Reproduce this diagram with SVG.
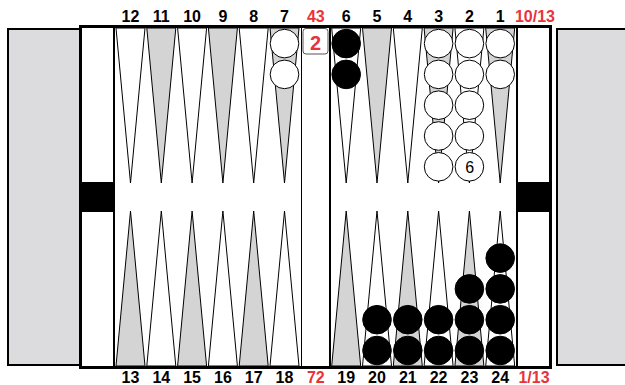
<svg xmlns="http://www.w3.org/2000/svg" width="625" height="385" viewBox="0 0 625 385">
<style>
.panel{fill:#dcdcde;stroke:#000;stroke-width:2}
.pw{fill:#fff;stroke:#000;stroke-width:1}
.pg{fill:#d4d4d4;stroke:#000;stroke-width:1}
.cw{fill:#fff;stroke:#000;stroke-width:1}
.cb{fill:#000;stroke:#000;stroke-width:1}
.num{font-family:"Liberation Sans",Arial,sans-serif;font-weight:bold;font-size:16px;fill:#000;text-anchor:middle}
.red{fill:#e8333b}
</style>
<rect width="625" height="385" fill="#fff"/>
<g id="panels">
<rect class="panel" x="8" y="29" width="72" height="336"/>
<rect class="panel" x="557" y="29" width="80" height="336"/>
</g>
<g id="board">
<rect x="80.5" y="26.5" width="470" height="341" fill="#fff" stroke="#000" stroke-width="3"/>
<line x1="114" y1="26" x2="114" y2="368" stroke="#000" stroke-width="2"/>
<line x1="517" y1="26" x2="517" y2="368" stroke="#000" stroke-width="2"/>
<line x1="301.5" y1="26" x2="301.5" y2="368" stroke="#000" stroke-width="1"/>
<line x1="330" y1="26" x2="330" y2="368" stroke="#000" stroke-width="2"/>
<rect x="79" y="182" width="36" height="30" fill="#000"/>
<rect x="516" y="182" width="36" height="30" fill="#000"/>
</g>
<g id="points">
<polygon class="pw" points="116,28 145,28 130.5,183"/>
<polygon class="pg" points="146.8,28 175.8,28 161.3,183"/>
<polygon class="pw" points="177.6,28 206.6,28 192.1,183"/>
<polygon class="pg" points="208.4,28 237.4,28 222.9,183"/>
<polygon class="pw" points="239.2,28 268.2,28 253.7,183"/>
<polygon class="pg" points="270,28 299,28 284.5,183"/>
<polygon class="pw" points="331.7,28 360.7,28 346.2,183"/>
<polygon class="pg" points="362.5,28 391.5,28 377,183"/>
<polygon class="pw" points="393.3,28 422.3,28 407.8,183"/>
<polygon class="pg" points="424.1,28 453.1,28 438.6,183"/>
<polygon class="pw" points="454.9,28 483.9,28 469.4,183"/>
<polygon class="pg" points="485.7,28 514.7,28 500.2,183"/>
<polygon class="pg" points="116,366 145,366 130.5,211"/>
<polygon class="pw" points="146.8,366 175.8,366 161.3,211"/>
<polygon class="pg" points="177.6,366 206.6,366 192.1,211"/>
<polygon class="pw" points="208.4,366 237.4,366 222.9,211"/>
<polygon class="pg" points="239.2,366 268.2,366 253.7,211"/>
<polygon class="pw" points="270,366 299,366 284.5,211"/>
<polygon class="pg" points="331.7,366 360.7,366 346.2,211"/>
<polygon class="pw" points="362.5,366 391.5,366 377,211"/>
<polygon class="pg" points="393.3,366 422.3,366 407.8,211"/>
<polygon class="pw" points="424.1,366 453.1,366 438.6,211"/>
<polygon class="pg" points="454.9,366 483.9,366 469.4,211"/>
<polygon class="pw" points="485.7,366 514.7,366 500.2,211"/>
</g>
<g id="checkers">
<circle class="cw" cx="284.5" cy="43.6" r="14.3"/>
<circle class="cw" cx="284.5" cy="74.4" r="14.3"/>
<circle class="cb" cx="346.2" cy="43.6" r="14.3"/>
<circle class="cb" cx="346.2" cy="74.4" r="14.3"/>
<circle class="cw" cx="438.6" cy="43.6" r="14.3"/>
<circle class="cw" cx="438.6" cy="74.4" r="14.3"/>
<circle class="cw" cx="438.6" cy="105.2" r="14.3"/>
<circle class="cw" cx="438.6" cy="136" r="14.3"/>
<circle class="cw" cx="438.6" cy="166.8" r="14.3"/>
<circle class="cw" cx="469.4" cy="43.6" r="14.3"/>
<circle class="cw" cx="469.4" cy="74.4" r="14.3"/>
<circle class="cw" cx="469.4" cy="105.2" r="14.3"/>
<circle class="cw" cx="469.4" cy="136" r="14.3"/>
<circle class="cw" cx="469.4" cy="166.8" r="14.3"/>
<text x="469.6" y="172.6" font-family="'Liberation Sans',Arial,sans-serif" font-size="16" text-anchor="middle" fill="#000">6</text>
<circle class="cw" cx="500.2" cy="43.6" r="14.3"/>
<circle class="cw" cx="500.2" cy="74.4" r="14.3"/>
<circle class="cb" cx="377" cy="350.5" r="14.3"/>
<circle class="cb" cx="377" cy="319.7" r="14.3"/>
<circle class="cb" cx="407.8" cy="350.5" r="14.3"/>
<circle class="cb" cx="407.8" cy="319.7" r="14.3"/>
<circle class="cb" cx="438.6" cy="350.5" r="14.3"/>
<circle class="cb" cx="438.6" cy="319.7" r="14.3"/>
<circle class="cb" cx="469.4" cy="350.5" r="14.3"/>
<circle class="cb" cx="469.4" cy="319.7" r="14.3"/>
<circle class="cb" cx="469.4" cy="288.9" r="14.3"/>
<circle class="cb" cx="500.2" cy="350.5" r="14.3"/>
<circle class="cb" cx="500.2" cy="319.7" r="14.3"/>
<circle class="cb" cx="500.2" cy="288.9" r="14.3"/>
<circle class="cb" cx="500.2" cy="258.1" r="14.3"/>
</g>
<g id="cube">
<rect x="303" y="28.5" width="25" height="25.5" rx="3" fill="#fff" stroke="#555" stroke-width="1"/>
<text x="315.5" y="49.5" font-family="'Liberation Sans',Arial,sans-serif" font-weight="bold" font-size="20" text-anchor="middle" class="red">2</text>
</g>
<g id="labels">
<text class="num" x="130.5" y="21.7">12</text>
<text class="num" x="161.3" y="21.7">11</text>
<text class="num" x="192.1" y="21.7">10</text>
<text class="num" x="222.9" y="21.7">9</text>
<text class="num" x="253.7" y="21.7">8</text>
<text class="num" x="284.5" y="21.7">7</text>
<text class="num red" x="315.8" y="21.7">43</text>
<text class="num" x="346.2" y="21.7">6</text>
<text class="num" x="377" y="21.7">5</text>
<text class="num" x="407.8" y="21.7">4</text>
<text class="num" x="438.6" y="21.7">3</text>
<text class="num" x="469.4" y="21.7">2</text>
<text class="num" x="500.2" y="21.7">1</text>
<text class="num red" x="535" y="21.7">10/13</text>
<text class="num" x="130.5" y="383.3">13</text>
<text class="num" x="161.3" y="383.3">14</text>
<text class="num" x="192.1" y="383.3">15</text>
<text class="num" x="222.9" y="383.3">16</text>
<text class="num" x="253.7" y="383.3">17</text>
<text class="num" x="284.5" y="383.3">18</text>
<text class="num red" x="315.8" y="383.3">72</text>
<text class="num" x="346.2" y="383.3">19</text>
<text class="num" x="377" y="383.3">20</text>
<text class="num" x="407.8" y="383.3">21</text>
<text class="num" x="438.6" y="383.3">22</text>
<text class="num" x="469.4" y="383.3">23</text>
<text class="num" x="500.2" y="383.3">24</text>
<text class="num red" x="534" y="383.3">1/13</text>
</g>
</svg>
